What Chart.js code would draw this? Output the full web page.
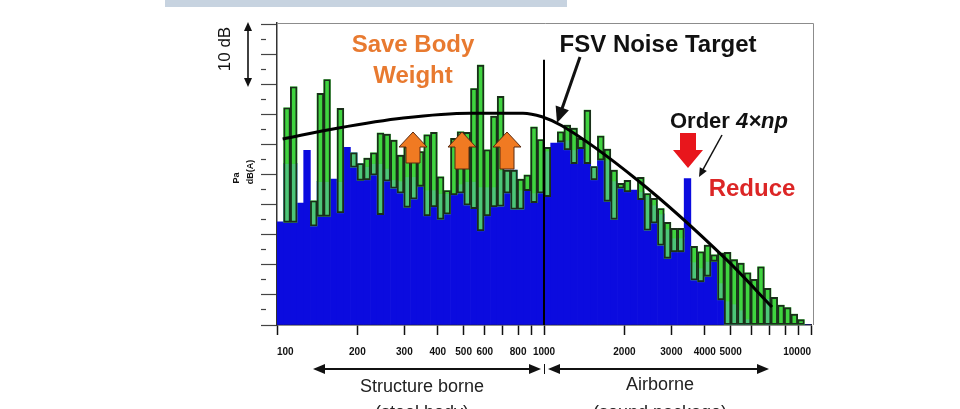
<!DOCTYPE html>
<html lang="en">
<head>
<meta charset="utf-8"/>
<title>FSV Noise Target</title>
<script src="https://cdn.jsdelivr.net/npm/chart.js"></script>
<style>
  html, body { margin: 0; padding: 0; background: #fff; }
  #wrap { width: 960px; height: 409px; }
</style>
</head>
<body>
<div id="wrap"><canvas id="spectrum" width="960" height="409"></canvas></div>
<script>
  // 1/12 octave bands, 100 Hz .. 10 kHz
  const bandFreqs = [
    100, 106, 112, 118, 125, 132, 140, 150, 160, 170, 180, 190, 200, 212, 224, 236, 250, 265, 280, 300,
    315, 335, 355, 375, 400, 425, 450, 475, 500, 530, 560, 600, 630, 670, 710, 750, 800, 850, 900, 950,
    1000, 1060, 1120, 1180, 1250, 1320, 1400, 1500, 1600, 1700, 1800, 1900, 2000, 2120, 2240, 2360, 2500, 2650, 2800, 3000,
    3150, 3350, 3550, 3750, 4000, 4250, 4500, 4750, 5000, 5300, 5600, 6000, 6300, 6700, 7100, 7500, 8000, 8500, 9000, 9500
  ];

  // current vehicle level (blue), dB above plot floor
  const blueLevel = [
    17.2, 26.9, 26.9, 20.3, 29.1, 20.5, 23.9, 23.9, 24.3, 23.9, 29.6, 28.7, 26.9, 26.4, 26.9, 26.9, 26.1, 24.2, 24.0, 24.7,
    24.7, 23.1, 22.5, 22.5, 21.9, 21.9, 21.9, 23.5, 23.9, 23.9, 23.0, 23.0, 23.0, 25.8, 25.8, 25.8, 22.5, 22.4, 22.0, 22.5,
    29.0, 30.3, 30.5, 30.8, 29.2, 29.4, 27.5, 26.4, 27.5, 27.5, 24.0, 23.0, 22.2, 22.5, 22.2, 21.5, 20.0, 18.5, 16.0, 14.5,
    14.5, 24.4, 10.5, 9.5, 10.6, 10.6, 7.0, 4.0, 3.5, 2.5, 1.0, 0, 0, 4.4, 0, 0, 0, 0, 0, 0
  ];

  // spread of other vehicles (green range bars): low / high
  const greenLow = [
    null, 17.1, 17.1, null, null, 16.5, 18.1, 18.1, null, 18.7, null, 26.3, 24.1, 24.2, 25.0, 18.4, 24.0, 22.8, 22.0, 19.6,
    21.0, 23.1, 18.2, 19.7, 17.6, 18.5, 21.7, 22.0, 20.0, 19.4, 15.7, 18.2, 19.7, 19.8, 22.0, 19.3, 19.3, 22.4, 20.4, 22.0,
    21.4, null, 30.5, 29.2, 26.9, 29.4, 26.9, 24.2, 27.5, 20.6, 17.6, 22.8, 22.2, null, 20.9, 15.8, 17.0, 13.3, 11.1, 12.2,
    12.2, null, 7.5, 7.2, 8.1, 10.6, 4.2, 0, 0, 0, 0, 0, 0, 0, 0, 0, 0, 0, 0, null
  ];
  const greenHigh = [
    null, 36.2, 39.7, null, null, 20.7, 38.6, 40.9, null, 36.1, null, 28.7, 26.9, 27.8, 28.7, 32.0, 31.8, 30.8, 28.3, 29.7,
    28.0, 28.9, 31.7, 32.1, 24.7, 22.4, 31.1, 32.2, 32.1, 39.4, 43.3, 29.2, 34.8, 38.1, 25.8, 25.8, 24.3, 25.0, 33.0, 30.9,
    29.6, null, 32.2, 33.3, 32.8, 31.1, 35.8, 26.4, 31.5, 29.3, 25.8, 23.6, 24.1, null, 24.6, 21.9, 21.1, 19.4, 17.1, 16.1,
    16.1, null, 13.1, 12.2, 13.3, 11.7, 12.0, 12.1, 10.9, 10.3, 8.7, 7.6, 9.7, 6.1, 4.6, 3.3, 2.9, 1.8, 0.9, null
  ];

  // FSV noise target curve
  const targetFreq = [105, 168, 297, 528, 834, 983, 1167, 2230, 4846, 7145];
  const targetLevel = [31.0, 32.8, 34.5, 35.3, 35.3, 34.7, 33.2, 24.2, 10.8, 3.0];

  // structure borne / airborne split
  const splitFreq = 1000;
  const splitTop = 44.2;

  const xTickValues = [100, 200, 300, 400, 500, 600, 700, 800, 900, 1000, 2000, 3000, 4000, 5000, 6000, 7000, 8000, 9000, 10000];
  const xTickLabels = ['100', '200', '300', '400', '500', '600', '', '800', '', '1000', '2000', '3000', '4000', '5000', '', '', '', '', '10000'];

  // split each green range into the part above and below the blue bar
  const greenFrame = greenHigh.map((h, i) => h == null ? null : [greenLow[i], h]);
  const greenOver = greenHigh.map((h, i) => (h == null || h <= blueLevel[i]) ? null : [Math.max(greenLow[i], blueLevel[i]), h]);
  const greenUnder = greenHigh.map((h, i) => (h == null || greenLow[i] >= blueLevel[i]) ? null : [greenLow[i], Math.min(h, blueLevel[i])]);

  const FONT = '"Liberation Sans", Arial, sans-serif';

  function head(ctx, x1, y1, x2, y2, len, hw) {
    const a = Math.atan2(y2 - y1, x2 - x1);
    const bx = x2 - len * Math.cos(a), by = y2 - len * Math.sin(a);
    ctx.beginPath();
    ctx.moveTo(x2, y2);
    ctx.lineTo(bx - hw * Math.sin(a), by + hw * Math.cos(a));
    ctx.lineTo(bx + hw * Math.sin(a), by - hw * Math.cos(a));
    ctx.closePath();
    ctx.fill();
  }

  function lineArrow(ctx, x1, y1, x2, y2, w, len, hw, both) {
    const a = Math.atan2(y2 - y1, x2 - x1);
    const c = Math.cos(a), s = Math.sin(a);
    ctx.lineWidth = w;
    ctx.beginPath();
    ctx.moveTo(both ? x1 + c * len * 0.7 : x1, both ? y1 + s * len * 0.7 : y1);
    ctx.lineTo(x2 - c * len * 0.7, y2 - s * len * 0.7);
    ctx.stroke();
    head(ctx, x1, y1, x2, y2, len, hw);
    if (both) head(ctx, x2, y2, x1, y1, len, hw);
  }

  function blockArrow(ctx, tx, ty, baseY, headHW, headLen, shaftHW) {
    const d = baseY > ty ? 1 : -1;
    const hy = ty + d * headLen;
    ctx.beginPath();
    ctx.moveTo(tx, ty);
    ctx.lineTo(tx + headHW, hy);
    ctx.lineTo(tx + shaftHW, hy);
    ctx.lineTo(tx + shaftHW, baseY);
    ctx.lineTo(tx - shaftHW, baseY);
    ctx.lineTo(tx - shaftHW, hy);
    ctx.lineTo(tx - headHW, hy);
    ctx.closePath();
    ctx.fill();
  }

  function rotText(ctx, txt, x, y, font) {
    ctx.save();
    ctx.translate(x, y);
    ctx.rotate(-Math.PI / 2);
    ctx.font = font;
    ctx.fillText(txt, 0, 0);
    ctx.restore();
  }

  const annotations = {
    id: 'annotations',
    afterDraw(chart) {
      const ctx = chart.ctx;
      const a = chart.chartArea;
      ctx.save();

      // slide band at top
      ctx.fillStyle = '#c7d3e0';
      ctx.fillRect(165, 0, 402, 7);

      // plot frame (top and right)
      ctx.strokeStyle = '#8c8c8c';
      ctx.lineWidth = 1;
      ctx.beginPath();
      ctx.moveTo(a.left, a.top + 0.5);
      ctx.lineTo(a.right + 2.5, a.top + 0.5);
      ctx.lineTo(a.right + 2.5, a.bottom);
      ctx.stroke();

      ctx.fillStyle = '#111';
      ctx.strokeStyle = '#111';
      ctx.textAlign = 'center';
      ctx.textBaseline = 'middle';

      // 10 dB scale arrow
      lineArrow(ctx, 248, 22, 248, 87, 1.6, 9, 4, true);
      rotText(ctx, '10 dB', 225, 49, '17px ' + FONT);
      rotText(ctx, 'Pa', 237, 178, 'bold 9px ' + FONT);
      rotText(ctx, 'dB(A)', 251, 172, 'bold 9px ' + FONT);

      // titles
      ctx.fillStyle = '#e87a30';
      ctx.font = 'bold 24px ' + FONT;
      ctx.fillText('Save Body', 413, 45);
      ctx.fillText('Weight', 413, 76);

      ctx.fillStyle = '#111';
      ctx.fillText('FSV Noise Target', 658, 45);
      lineArrow(ctx, 580, 57, 557, 123, 3, 16, 7, false);

      // order annotation
      ctx.textAlign = 'left';
      ctx.font = 'bold 22px ' + FONT;
      ctx.fillText('Order ', 670, 122);
      const w = ctx.measureText('Order ').width;
      ctx.font = 'italic bold 22px ' + FONT;
      ctx.fillText('4\u00d7np', 670 + w, 122);
      lineArrow(ctx, 722, 135, 699, 177, 1.5, 9, 4, false);

      ctx.textAlign = 'center';
      ctx.fillStyle = '#dc2626';
      ctx.font = 'bold 24px ' + FONT;
      ctx.fillText('Reduce', 752, 189);

      // red down arrow
      ctx.fillStyle = '#e8161c';
      blockArrow(ctx, 688, 168, 133, 15, 18, 8);

      // orange up arrows
      ctx.fillStyle = '#f07a22';
      ctx.strokeStyle = '#5a2a10';
      ctx.lineWidth = 1;
      [[413, 163], [462, 169], [507, 169]].forEach(([x, b]) => {
        blockArrow(ctx, x, 132, b, 14, 15, 7);
        ctx.stroke();
      });

      // structure borne / airborne ranges
      ctx.fillStyle = '#111';
      ctx.strokeStyle = '#111';
      lineArrow(ctx, 313, 369, 541, 369, 2, 12, 5, true);
      lineArrow(ctx, 548, 369, 769, 369, 2, 12, 5, true);
      ctx.lineWidth = 1;
      ctx.beginPath();
      ctx.moveTo(544.5, 364);
      ctx.lineTo(544.5, 374);
      ctx.stroke();

      ctx.fillStyle = '#222';
      ctx.font = '18px ' + FONT;
      ctx.fillText('Structure borne', 422, 387);
      ctx.fillText('(steel body)', 422, 413);
      ctx.fillText('Airborne', 660, 385);
      ctx.fillText('(sound package)', 660, 413);

      ctx.restore();
    }
  };

  new Chart(document.getElementById('spectrum'), {
    type: 'bar',
    data: {
      labels: bandFreqs,
      datasets: [
        {
          type: 'line',
          label: 'FSV Noise Target',
          xAxisID: 'x',
          data: targetFreq.map((f, i) => ({ x: f, y: targetLevel[i] })),
          borderColor: '#000',
          borderWidth: 3,
          pointRadius: 0,
          cubicInterpolationMode: 'monotone',
          order: 0
        },
        {
          type: 'line',
          label: 'Split',
          xAxisID: 'x',
          data: [{ x: splitFreq, y: 0 }, { x: splitFreq, y: splitTop }],
          borderColor: '#000',
          borderWidth: 2,
          pointRadius: 0,
          order: 0
        },
        {
          label: 'Range outline',
          xAxisID: 'xb',
          data: greenFrame,
          backgroundColor: 'rgba(0,0,0,0)',
          borderColor: '#1a2e1a',
          borderWidth: 1.2,
          order: 1
        },
        {
          label: 'Range above',
          xAxisID: 'xb',
          data: greenOver,
          backgroundColor: '#3fd43f',
          borderWidth: 0,
          order: 2
        },
        {
          label: 'Range below',
          xAxisID: 'xb',
          data: greenUnder,
          backgroundColor: '#4cc677',
          borderWidth: 0,
          order: 3
        },
        {
          label: 'Current',
          xAxisID: 'xb',
          data: blueLevel,
          backgroundColor: '#0b0bdf',
          borderWidth: 0,
          order: 4
        }
      ]
    },
    options: {
      responsive: false,
      animation: false,
      layout: { padding: { left: 261, right: 149, top: 23, bottom: 50 } },
      plugins: { legend: { display: false }, tooltip: { enabled: false } },
      datasets: {
        bar: { grouped: false, categoryPercentage: 1, barPercentage: 1, borderSkipped: false }
      },
      scales: {
        x: {
          type: 'logarithmic',
          position: 'bottom',
          min: 100,
          max: 10000,
          offset: false,
          afterBuildTicks: s => { s.ticks = xTickValues.map(v => ({ value: v })); },
          afterFit: s => { s.height = 34; },
          ticks: {
            autoSkip: false,
            maxRotation: 0,
            align: 'inner',
            padding: 11,
            color: '#111',
            font: { family: FONT, size: 10, weight: 'bold' },
            callback: (v, i) => xTickLabels[i]
          },
          grid: { offset: false, drawOnChartArea: false, tickLength: 10, tickColor: '#111', tickWidth: 1.5 },
          border: { color: '#222', width: 1.5 }
        },
        xb: { type: 'category', display: false, offset: true },
        y: {
          position: 'left',
          min: 0,
          max: 50.33,
          ticks: { display: false, stepSize: 2.5, includeBounds: false },
          grid: {
            drawOnChartArea: false,
            tickLength: 16,
            tickColor: '#444',
            tickWidth: 1.2,
            tickBorderDash: c => (c.tick && c.tick.value % 5 === 0) ? [] : [5, 40]
          },
          border: { color: '#333', width: 1.5 }
        }
      }
    },
    plugins: [annotations]
  });
</script>
</body>
</html>
